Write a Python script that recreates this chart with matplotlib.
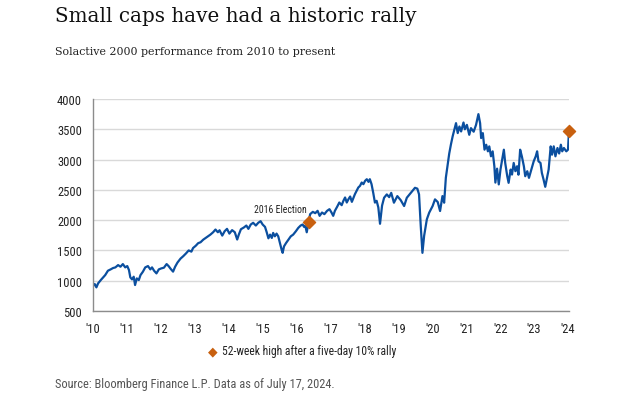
import matplotlib
matplotlib.use("Agg")
import matplotlib.pyplot as plt
from matplotlib import font_manager

# Solactive 2000 level (x in chart years)
years = [
    2010.00, 2010.05, 2010.10, 2010.15, 2010.23, 2010.29, 2010.36, 2010.44, 2010.52, 2010.59,
    2010.66, 2010.74, 2010.81, 2010.88, 2010.95, 2011.01, 2011.06, 2011.10, 2011.15, 2011.20,
    2011.24, 2011.29, 2011.35, 2011.40, 2011.47, 2011.54, 2011.62, 2011.69, 2011.74, 2011.80,
    2011.87, 2011.94, 2012.01, 2012.09, 2012.17, 2012.23, 2012.29, 2012.36, 2012.42, 2012.49,
    2012.58, 2012.66, 2012.74, 2012.82, 2012.90, 2012.95, 2013.03, 2013.10, 2013.17, 2013.25,
    2013.32, 2013.39, 2013.46, 2013.54, 2013.61, 2013.68, 2013.73, 2013.81, 2013.88, 2013.95,
    2014.02, 2014.10, 2014.18, 2014.25, 2014.30, 2014.36, 2014.45, 2014.52, 2014.58, 2014.65,
    2014.72, 2014.80, 2014.87, 2014.94, 2015.00, 2015.07, 2015.12, 2015.17, 2015.22, 2015.27,
    2015.31, 2015.36, 2015.41, 2015.46, 2015.51, 2015.56, 2015.59, 2015.63, 2015.69, 2015.76,
    2015.83, 2015.90, 2015.98, 2016.05, 2016.12, 2016.18, 2016.22, 2016.26, 2016.30, 2016.36,
    2016.40, 2016.48, 2016.55, 2016.62, 2016.68, 2016.75, 2016.82, 2016.90, 2016.97, 2017.03,
    2017.08, 2017.13, 2017.20, 2017.26, 2017.33, 2017.38, 2017.43, 2017.48, 2017.53, 2017.58,
    2017.63, 2017.68, 2017.72, 2017.77, 2017.82, 2017.87, 2017.92, 2017.97, 2018.02, 2018.07,
    2018.12, 2018.16, 2018.21, 2018.26, 2018.31, 2018.36, 2018.41, 2018.46, 2018.52, 2018.58,
    2018.66, 2018.73, 2018.79, 2018.87, 2018.97, 2019.07, 2019.17, 2019.25, 2019.37, 2019.49,
    2019.56, 2019.61, 2019.66, 2019.71, 2019.76, 2019.84, 2019.91, 2020.01, 2020.08, 2020.16,
    2020.23, 2020.30, 2020.35, 2020.40, 2020.45, 2020.50, 2020.55, 2020.60, 2020.65, 2020.70,
    2020.75, 2020.80, 2020.85, 2020.92, 2020.96, 2021.02, 2021.09, 2021.14, 2021.22, 2021.29,
    2021.36, 2021.41, 2021.44, 2021.49, 2021.54, 2021.59, 2021.64, 2021.68, 2021.73, 2021.78,
    2021.83, 2021.86, 2021.91, 2021.96, 2022.01, 2022.06, 2022.11, 2022.15, 2022.21, 2022.25,
    2022.31, 2022.35, 2022.40, 2022.45, 2022.50, 2022.54, 2022.59, 2022.64, 2022.70, 2022.74,
    2022.80, 2022.85, 2022.92, 2022.99, 2023.05, 2023.09, 2023.13, 2023.19, 2023.23, 2023.28,
    2023.33, 2023.39, 2023.43, 2023.49, 2023.53, 2023.58, 2023.63, 2023.69, 2023.74, 2023.79,
    2023.83, 2023.88, 2023.95, 2024.00, 2024.03,
]
level = [
    912, 945, 890, 956, 1011, 1049, 1093, 1165, 1187, 1209,
    1220, 1258, 1231, 1275, 1220, 1242, 1176, 1055, 1022, 1066,
    929, 1038, 1011, 1093, 1148, 1220, 1242, 1187, 1220, 1165,
    1121, 1187, 1203, 1215, 1275, 1240, 1195, 1150, 1230, 1300,
    1365, 1405, 1450, 1500, 1480, 1540, 1578, 1620, 1635, 1678,
    1706, 1733, 1761, 1800, 1845, 1800, 1833, 1745, 1817, 1856,
    1778, 1835, 1800, 1680, 1765, 1850, 1880, 1911, 1856, 1928,
    1956, 1911, 1956, 1983, 1928, 1889, 1800, 1700, 1761, 1706,
    1789, 1733, 1778, 1733, 1622, 1511, 1460, 1567, 1622, 1678,
    1733, 1761, 1817, 1872, 1911, 1928, 1889, 1900, 1800, 1975,
    2099, 2137, 2115, 2154, 2071, 2126, 2099, 2154, 2181, 2126,
    2071, 2154, 2225, 2291, 2247, 2319, 2374, 2291, 2346, 2390,
    2302, 2374, 2429, 2484, 2539, 2566, 2621, 2594, 2649, 2676,
    2632, 2676, 2594, 2450, 2290, 2319, 2209, 1940, 2240, 2370,
    2425, 2380, 2450, 2288, 2397, 2330, 2233, 2370, 2452, 2534,
    2520, 2425, 1905, 1460, 1741, 2014, 2124, 2233, 2343, 2300,
    2151, 2397, 2288, 2700, 2900, 3100, 3250, 3382, 3491, 3601,
    3437, 3546, 3464, 3612, 3500, 3573, 3409, 3519, 3460, 3573,
    3750, 3601, 3355, 3437, 3163, 3245, 3136, 3218, 3054, 3136,
    2890, 2620, 2850, 2590, 2835, 2999, 3163, 2944, 2725, 2616,
    2835, 2753, 2944, 2808, 2890, 2750, 3163, 3054, 2890, 2725,
    2808, 2698, 2835, 2972, 3054, 3136, 2972, 2944, 2780, 2671,
    2550, 2725, 2835, 3218, 3081, 3218, 3054, 3191, 3100, 3245,
    3136, 3191, 3136, 3163, 3475,
]

# 52-week high after a five-day 10% rally
rally_years = [2016.36, 2024.03]
rally_level = [1975, 3475]

tick_years = list(range(2010, 2025))
tick_labels = ["'%02d" % (y % 100) for y in tick_years]
y_ticks = [500, 1000, 1500, 2000, 2500, 3000, 3500, 4000]

BLUE = "#0b4f9f"
ORANGE = "#c8600f"

# condensed sans if there is one, plain DejaVu otherwise
names = {f.name for f in font_manager.fontManager.ttflist}
cond = [n for n in ["Roboto Condensed", "Liberation Sans Narrow", "Open Sans Condensed"] if n in names]
sans = cond + ["DejaVu Sans"]
stretch = "normal" if cond else "condensed"

fig = plt.figure(figsize=(6.4, 4.02), dpi=100)
ax = fig.add_axes([93 / 640, 1 - 312 / 402, (569 - 93) / 640, (312 - 100) / 402])

ax.plot(years, level, color=BLUE, lw=1.6, solid_joinstyle="round")
ax.scatter(rally_years, rally_level, marker="D", s=38, color=ORANGE, zorder=5, clip_on=False)
ax.text(rally_years[0] - 0.05, rally_level[0] + 120, "2016 Election", ha="right", va="bottom",
        fontsize=7, color="#222222", family=sans, fontstretch=stretch)

ax.set_xlim(2010, 2024.03)
ax.set_ylim(500, 4000)
ax.set_xticks(tick_years)
ax.set_xticklabels(tick_labels)
ax.set_yticks(y_ticks)
ax.grid(axis="y", color="#d9d9d9", lw=1)
ax.set_axisbelow(True)
for s in ["top", "right"]:
    ax.spines[s].set_visible(False)
for s in ["left", "bottom"]:
    ax.spines[s].set_color("#8c8c8c")
    ax.spines[s].set_linewidth(1)
ax.tick_params(length=0, pad=8, labelsize=9, labelcolor="#222222")
for lab in ax.get_xticklabels() + ax.get_yticklabels():
    lab.set_family(sans)
    lab.set_fontstretch(stretch)

fig.text(55 / 640, 1 - 17 / 402, "Small caps have had a historic rally", fontsize=14.3,
         family="DejaVu Serif", va="center", ha="left", color="#111111")
fig.text(55 / 640, 1 - 52 / 402, "Solactive 2000 performance from 2010 to present", fontsize=7.9,
         family="DejaVu Serif", va="center", ha="left", color="#222222")

fig.text(213 / 640, 1 - 352 / 402, "\u25c6", fontsize=9, color=ORANGE, va="center", ha="center",
         family="DejaVu Sans")
fig.text(222 / 640, 1 - 352 / 402, "52-week high after a five-day 10% rally", fontsize=8.4,
         family=sans, fontstretch=stretch, va="center", ha="left", color="#222222")
fig.text(55 / 640, 1 - 385 / 402, "Source: Bloomberg Finance L.P. Data as of July 17, 2024.",
         fontsize=8.9, family=sans, fontstretch=stretch, va="center", ha="left", color="#555555")

fig.savefig("out.png", dpi=100)
